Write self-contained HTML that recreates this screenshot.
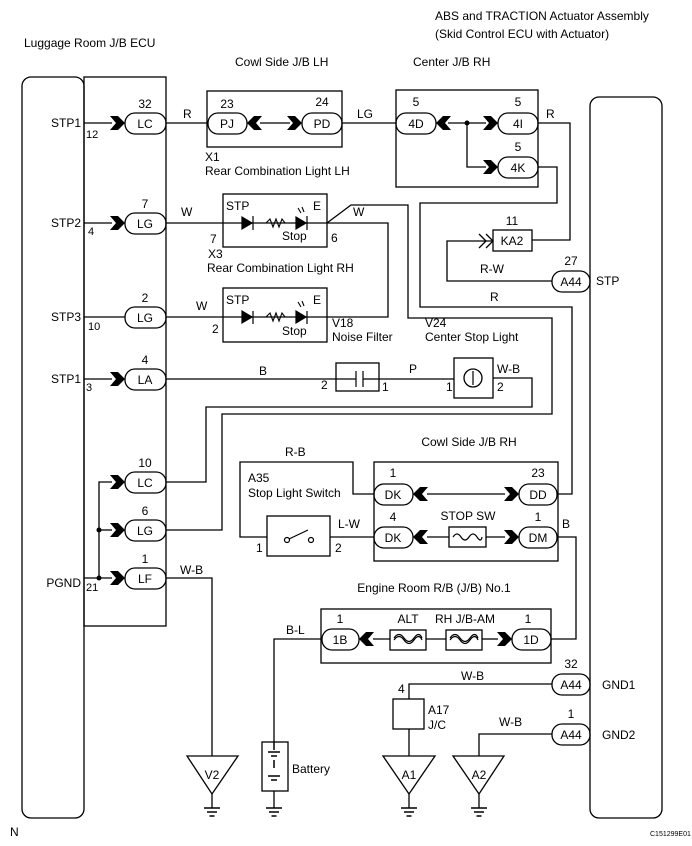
<!DOCTYPE html>
<html><head><meta charset="utf-8"><style>
html,body{margin:0;padding:0;background:#fff}
svg{display:block}
text{font-family:"Liberation Sans",sans-serif;font-size:12px;fill:#000}
</style></head><body>
<svg width="692" height="846" viewBox="0 0 692 846" xmlns="http://www.w3.org/2000/svg">
<defs>
<g id="chR"><polygon points="-15,-7 -7,-7 0,0 -7,7 -15,7 -9,0" fill="#000"/></g>
<g id="chL"><polygon points="15,-7 7,-7 0,0 7,7 15,7 9,0" fill="#000"/></g>
<g id="gnd"><line x1="-8" y1="0" x2="8" y2="0" stroke="#000" stroke-width="1.5"/><line x1="-5" y1="4" x2="5" y2="4" stroke="#000" stroke-width="1.5"/><line x1="-2.5" y1="8" x2="2.5" y2="8" stroke="#000" stroke-width="1.5"/></g>
</defs>
<g fill="none" stroke="#000" stroke-width="1.3">
<rect x="22" y="77" width="62" height="741" rx="9"/>
<rect x="84" y="77" width="82" height="549"/>
<rect x="590" y="97" width="72" height="721" rx="9"/>
<rect x="207" y="91" width="135" height="56"/>
<rect x="396" y="90" width="142" height="97"/>
<rect x="125" y="113" width="41" height="21" rx="10"/>
<rect x="125" y="213" width="41" height="21" rx="10"/>
<rect x="125" y="307" width="41" height="21" rx="10"/>
<rect x="125" y="369" width="41" height="21" rx="10"/>
<rect x="125" y="472" width="41" height="21" rx="10"/>
<rect x="125" y="520" width="41" height="21" rx="10"/>
<rect x="125" y="568" width="41" height="21" rx="10"/>
<rect x="208" y="113" width="39" height="21" rx="10"/>
<rect x="302" y="113" width="40" height="21" rx="10"/>
<rect x="396" y="113" width="40" height="21" rx="10"/>
<rect x="498" y="113" width="40" height="21" rx="10"/>
<rect x="498" y="157" width="40" height="21" rx="10"/>
<rect x="552" y="271" width="38" height="21" rx="10"/>
<rect x="552" y="674" width="38" height="21" rx="10"/>
<rect x="552" y="724" width="38" height="21" rx="10"/>
<rect x="374" y="484" width="39" height="21" rx="10"/>
<rect x="519" y="484" width="38" height="21" rx="10"/>
<rect x="374" y="527" width="39" height="21" rx="10"/>
<rect x="519" y="527" width="38" height="21" rx="10"/>
<rect x="322" y="629" width="37" height="21" rx="10"/>
<rect x="512" y="629" width="39" height="21" rx="10"/>
<line x1="84" y1="123" x2="112" y2="123"/>
<line x1="84" y1="223" x2="112" y2="223"/>
<line x1="84" y1="317" x2="125" y2="317"/>
<line x1="84" y1="379" x2="112" y2="379"/>
<line x1="84" y1="578" x2="112" y2="578"/>
<polyline points="112,482 99,482 99,578"/>
<line x1="99" y1="530" x2="112" y2="530"/>
<line x1="166" y1="123" x2="208" y2="123"/>
<line x1="260" y1="123" x2="290" y2="123"/>
<line x1="342" y1="123" x2="396" y2="123"/>
<line x1="448" y1="123" x2="486" y2="123"/>
<polyline points="467,123 467,167 486,167"/>
<polyline points="538,123 570,123 570,240 532,240"/>
<polyline points="538,167 557,167 557,203 420,203 420,307 572,307 572,494 557,494"/>
<rect x="493" y="230" width="39" height="21"/>
<polyline points="479,234 486,241 479,248"/><polyline points="486,234 493,241 486,248"/>
<polyline points="493,241 447,241 447,281 552,281"/>
<rect x="223" y="194" width="104" height="53"/>
<rect x="223" y="288" width="104" height="54"/>
<line x1="166" y1="223" x2="223" y2="223"/>
<line x1="166" y1="317" x2="223" y2="317"/>
<polyline points="223,223 327,223"/>
<polyline points="223,317 327,317"/>
<polyline points="327,223 351,205 408,205 408,318 552,318 552,414 222,414 222,530 166,530"/>
<polyline points="327,223 388,223 388,317 327,317"/>
<line x1="166" y1="379" x2="336" y2="379"/>
<rect x="336" y="363" width="43" height="28"/>
<line x1="336" y1="379" x2="356" y2="379"/>
<line x1="363" y1="379" x2="379" y2="379"/>
<line x1="379" y1="379" x2="454" y2="379"/>
<rect x="454" y="358" width="39" height="40"/>
<circle cx="473" cy="378" r="9"/>
<polyline points="493,378 532,378 532,407 206,407 206,482 166,482"/>
<rect x="374" y="462" width="184" height="99"/>
<line x1="427" y1="494" x2="505" y2="494"/>
<line x1="427" y1="537" x2="449" y2="537"/>
<line x1="486" y1="537" x2="505" y2="537"/>
<rect x="449" y="527" width="37" height="20"/>
<polyline points="374,494 353,494 353,462 240,462 240,537 267,537"/>
<rect x="267" y="516" width="63" height="40"/>
<line x1="330" y1="537" x2="374" y2="537"/>
<polyline points="557,537 576,537 576,639 551,639"/>
<rect x="321" y="609" width="230" height="54"/>
<line x1="373" y1="639" x2="390" y2="639"/>
<line x1="426" y1="639" x2="446" y2="639"/>
<line x1="482" y1="639" x2="498" y2="639"/>
<rect x="390" y="630" width="36" height="20"/>
<rect x="446" y="630" width="36" height="20"/>
<polyline points="322,639 274,639 274,742"/>
<rect x="262" y="742" width="26" height="49"/>
<line x1="274" y1="791" x2="274" y2="808"/>
<polyline points="166,578 212,578 212,756"/>
<polygon points="187,756 238,756 212,794"/>
<line x1="212" y1="794" x2="212" y2="808"/>
<polyline points="552,684 409,684 409,699"/>
<rect x="393" y="699" width="31" height="30"/>
<line x1="409" y1="729" x2="409" y2="756"/>
<polygon points="383,756 435,756 409,794"/>
<line x1="409" y1="794" x2="409" y2="808"/>
<polyline points="552,734 479,734 479,756"/>
<polygon points="453,756 504,756 479,794"/>
<line x1="479" y1="794" x2="479" y2="808"/>
</g>
<g stroke="#000" stroke-width="1.2" fill="#fff">
<circle cx="287" cy="540" r="2.5"/><circle cx="311" cy="540" r="2.5"/>
<line x1="289" y1="539" x2="308" y2="530"/>
</g>
<g fill="none" stroke="#000" stroke-width="1.2">
<path d="M453,537 q4,-6 8,0 q4,6 8,0 q4,-6 8,0 q4,6 5,0"/>
<path d="M394,640 q5,-7 10,0 q5,7 10,0 q5,-7 8,0"/><path d="M394,638 q5,-7 10,0 q5,7 10,0 q5,-7 8,0"/>
<path d="M450,640 q5,-7 10,0 q5,7 10,0 q5,-7 8,0"/><path d="M450,638 q5,-7 10,0 q5,7 10,0 q5,-7 8,0"/>
<line x1="473" y1="371" x2="473" y2="385"/>
<line x1="356" y1="371" x2="356" y2="387"/>
<line x1="363" y1="371" x2="363" y2="387"/>
</g>
<g stroke="#000" stroke-width="1.5"><line x1="268" y1="752" x2="280" y2="752"/><line x1="271" y1="756" x2="277" y2="756"/><line x1="274" y1="760" x2="274" y2="768"/><line x1="268" y1="776" x2="280" y2="776"/><line x1="271" y1="780" x2="277" y2="780"/><line x1="274" y1="742" x2="274" y2="750"/></g>
<g stroke="#000" stroke-width="1.2" fill="#000">
<polygon points="242,217 242,229 252,223"/><line x1="253" y1="216" x2="253" y2="230"/>
<polygon points="296,217 296,229 306,223"/><line x1="307" y1="216" x2="307" y2="230"/>
<polygon points="242,311 242,323 252,317"/><line x1="253" y1="311" x2="253" y2="324"/>
<polygon points="296,311 296,323 306,317"/><line x1="307" y1="311" x2="307" y2="324"/>
</g>
<g fill="none" stroke="#000" stroke-width="1.1">
<polyline points="266,223 270,219 273,227 276,219 279,227 282,219 285,223"/>
<polyline points="266,317 270,313 273,321 276,313 279,321 282,313 285,317"/>
<line x1="298" y1="208" x2="301" y2="213"/><line x1="302" y1="207" x2="304" y2="212"/>
<line x1="298" y1="302" x2="301" y2="307"/><line x1="302" y1="301" x2="304" y2="306"/>
</g>
<use href="#chR" x="125" y="123"/><use href="#chR" x="125" y="223"/><use href="#chR" x="125" y="379"/>
<use href="#chR" x="125" y="482"/><use href="#chR" x="125" y="530"/><use href="#chR" x="125" y="578"/>
<use href="#chL" x="247" y="123"/><use href="#chR" x="302" y="123"/>
<use href="#chL" x="436" y="123"/><use href="#chR" x="498" y="123"/><use href="#chR" x="498" y="167"/>
<use href="#chL" x="413" y="494"/><use href="#chR" x="519" y="494"/>
<use href="#chL" x="413" y="537"/><use href="#chR" x="519" y="537"/>
<use href="#chL" x="359" y="639"/><use href="#chR" x="512" y="639"/>
<circle cx="467" cy="123" r="2.5"/><circle cx="99" cy="530" r="2.5"/><circle cx="99" cy="578" r="2.5"/>
<use href="#gnd" x="212" y="808"/><use href="#gnd" x="274" y="808"/><use href="#gnd" x="409" y="808"/><use href="#gnd" x="479" y="808"/>
<text x="435" y="20">ABS and TRACTION Actuator Assembly</text>
<text x="435" y="38">(Skid Control ECU with Actuator)</text>
<text x="24" y="47">Luggage Room J/B ECU</text>
<text x="235" y="66">Cowl Side J/B LH</text>
<text x="413" y="66">Center J/B RH</text>
<g text-anchor="end"><text x="81" y="127">STP1</text><text x="81" y="227">STP2</text><text x="81" y="321">STP3</text><text x="81" y="383">STP1</text><text x="81" y="587">PGND</text></g>
<text x="86" y="138" style="font-size:11px">12</text><text x="88" y="235" style="font-size:11px">4</text><text x="88" y="330" style="font-size:11px">10</text><text x="86" y="391" style="font-size:11px">3</text><text x="86" y="591" style="font-size:11px">21</text>
<g text-anchor="middle">
<text x="145" y="128">LC</text><text x="145" y="228">LG</text><text x="145" y="322">LG</text><text x="145" y="384">LA</text><text x="145" y="487">LC</text><text x="145" y="535">LG</text><text x="145" y="583">LF</text>
<text x="145" y="108">32</text><text x="145" y="208">7</text><text x="145" y="302">2</text><text x="145" y="364">4</text><text x="145" y="467">10</text><text x="145" y="515">6</text><text x="145" y="563">1</text>
<text x="227" y="108">23</text><text x="322" y="106">24</text>
<text x="227" y="128">PJ</text><text x="322" y="128">PD</text>
<text x="416" y="128">4D</text><text x="518" y="128">4I</text><text x="518" y="172">4K</text>
<text x="416" y="106">5</text><text x="518" y="106">5</text><text x="518" y="151">5</text>
<text x="512" y="245">KA2</text><text x="512" y="225">11</text>
<text x="571" y="286">A44</text><text x="571" y="265">27</text>
<text x="571" y="689">A44</text><text x="571" y="668">32</text>
<text x="571" y="739">A44</text><text x="571" y="718">1</text>
<text x="393" y="499">DK</text><text x="538" y="499">DD</text><text x="393" y="542">DK</text><text x="538" y="542">DM</text>
<text x="393" y="477">1</text><text x="538" y="477">23</text><text x="393" y="521">4</text><text x="538" y="521">1</text>
<text x="340" y="644">1B</text><text x="531" y="644">1D</text><text x="340" y="623">1</text><text x="528" y="623">1</text>
<text x="468" y="520">STOP SW</text><text x="408" y="623">ALT</text><text x="465" y="623">RH J/B-AM</text>
<text x="469" y="446">Cowl Side J/B RH</text><text x="434" y="592">Engine Room R/B (J/B) No.1</text>
<text x="212" y="779">V2</text><text x="409" y="779">A1</text><text x="479" y="779">A2</text>
</g>
<text x="183" y="118">R</text><text x="357" y="118">LG</text><text x="546" y="118">R</text>
<text x="205" y="161">X1</text><text x="205" y="175">Rear Combination Light LH</text>
<text x="181" y="216">W</text><text x="353" y="216">W</text><text x="196" y="310">W</text>
<text x="226" y="210">STP</text><text x="313" y="210">E</text><text x="282" y="240">Stop</text>
<text x="226" y="304">STP</text><text x="313" y="304">E</text><text x="282" y="335">Stop</text>
<text x="210" y="243">7</text><text x="331" y="242">6</text><text x="212" y="333">2</text>
<text x="208" y="258">X3</text><text x="207" y="272">Rear Combination Light RH</text>
<text x="332" y="327">V18</text><text x="332" y="341">Noise Filter</text>
<text x="425" y="327">V24</text><text x="425" y="341">Center Stop Light</text>
<text x="480" y="273">R-W</text><text x="596" y="285">STP</text><text x="490" y="301">R</text>
<text x="259" y="375">B</text><text x="321" y="389">2</text><text x="382" y="391">1</text><text x="409" y="373">P</text><text x="446" y="391">1</text><text x="497" y="391">2</text><text x="497" y="373">W-B</text>
<text x="285" y="456">R-B</text><text x="248" y="482">A35</text><text x="248" y="497">Stop Light Switch</text>
<text x="338" y="528">L-W</text><text x="256" y="552">1</text><text x="335" y="552">2</text><text x="562" y="528">B</text>
<text x="180" y="574">W-B</text><text x="286" y="634">B-L</text><text x="292" y="773">Battery</text>
<text x="461" y="680">W-B</text><text x="398" y="693">4</text><text x="428" y="714">A17</text><text x="428" y="729">J/C</text>
<text x="499" y="726">W-B</text><text x="602" y="689">GND1</text><text x="602" y="739">GND2</text>
<text x="10" y="836">N</text><text x="650" y="836" style="font-size:7px">C151299E01</text>
</svg>
</body></html>
